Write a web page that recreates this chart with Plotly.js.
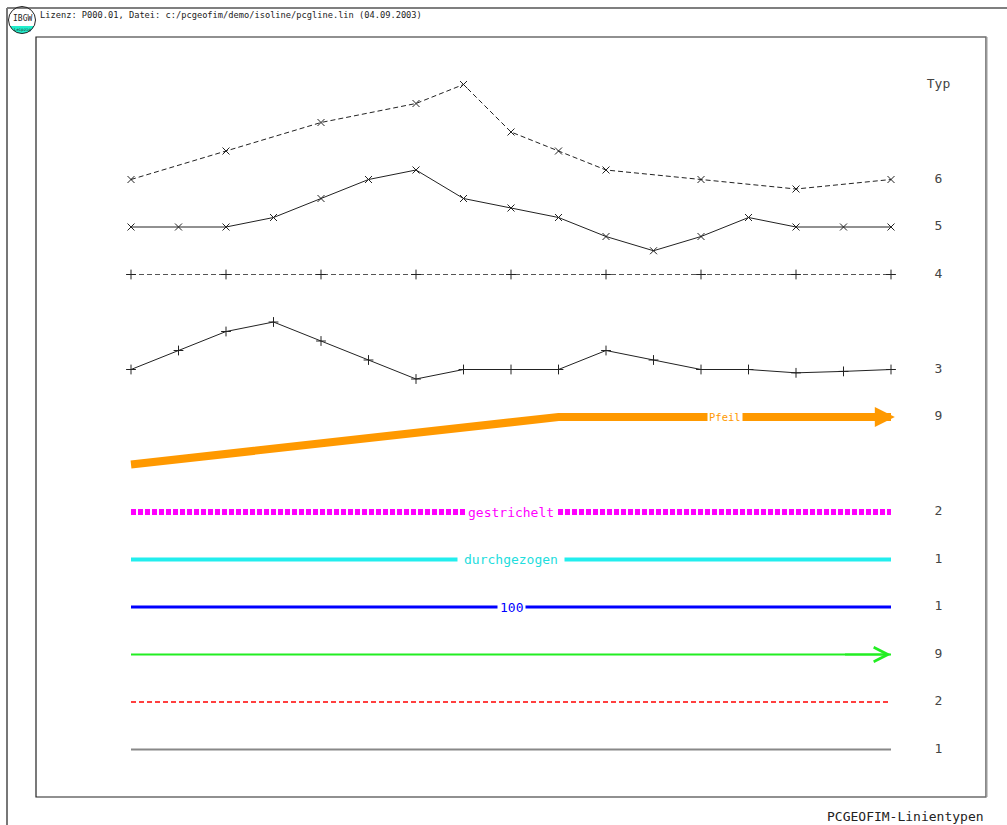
<!DOCTYPE html>
<html>
<head>
<meta charset="utf-8">
<script src="https://cdn.plot.ly/plotly-3.0.1.min.js"></script>
<style>html,body{margin:0;padding:0;background:#fff;}#chart{width:1007px;height:825px;}</style>
</head>
<body>
<div id="chart"></div>
<script>
// ---- data (x = station index, y = row value) ----
const typ6X = [0, 2, 4, 6, 7, 8, 9, 10, 12, 14, 16];
const typ6Y = [12.0, 12.6, 13.2, 13.6, 14.0, 13.0, 12.6, 12.2, 12.0, 11.8, 12.0];
const stationX = [0, 1, 2, 3, 4, 5, 6, 7, 8, 9, 10, 11, 12, 13, 14, 15, 16];
const typ5Y = [11.0, 11.0, 11.0, 11.2, 11.6, 12.0, 12.2, 11.6, 11.4, 11.2, 10.8, 10.5, 10.8, 11.2, 11.0, 11.0, 11.0];
const typ4X = [0, 2, 4, 6, 8, 10, 12, 14, 16];
const typ4Y = [10, 10, 10, 10, 10, 10, 10, 10, 10];
const typ3Y = [8.0, 8.4, 8.8, 9.0, 8.6, 8.2, 7.8, 8.0, 8.0, 8.0, 8.4, 8.2, 8.0, 8.0, 7.93, 7.96, 8.0];
const pfeilX = [0, 9, 16];
const pfeilY = [6, 7, 7];
const rowX = [0, 16];
const gestricheltY = [5, 5];
const durchgezogenY = [4, 4];
const hundertY = [3, 3];
const greenY = [2, 2];
const redY = [1, 1];
const grayY = [0, 0];
const typColX = 17;
const typRowsY = [14, 12, 11, 10, 8, 7, 5, 4, 3, 2, 1, 0];
const typLabels = ['Typ', '6', '5', '4', '3', '9', '2', '1', '1', '9', '2', '1'];
const lineLabels = ['gestrichelt', 'durchgezogen', '100', 'Pfeil'];
const lineLabelX = [8, 8, 8, 12.5];
const lineLabelY = [5, 4, 3, 7];
const headerText = 'Lizenz: P000.01, Datei: c:/pcgeofim/demo/isoline/pcgline.lin (04.09.2003)';
const footerText = 'PCGEOFIM-Linientypen';

// ---- layout helpers (pixel -> paper for decoration) ----
const W = 1007, H = 825, L = 36, R = 986, T = 37, B = 797;
const px = x => (x - L) / (R - L);
const py = y => (B - y) / (B - T);
const mono = 'DejaVu Sans Mono, Liberation Mono, monospace';

const traces = [
  {x: typ6X, y: typ6Y, mode: 'lines+markers', line: {color: '#222', width: 1, dash: '5px,3px'},
   marker: {symbol: 'x-thin', size: 7, line: {color: '#222', width: 1}}},
  {x: stationX, y: typ5Y, mode: 'lines+markers', line: {color: '#222', width: 1},
   marker: {symbol: 'x-thin', size: 7, line: {color: '#222', width: 1}}},
  {x: typ4X, y: typ4Y, mode: 'lines+markers', line: {color: '#555', width: 1, dash: '5px,3px'},
   marker: {symbol: 'cross-thin', size: 7, line: {color: '#222', width: 1}}},
  {x: stationX, y: typ3Y, mode: 'lines+markers', line: {color: '#222', width: 1},
   marker: {symbol: 'cross-thin', size: 7, line: {color: '#222', width: 1}}},
  {x: pfeilX, y: pfeilY, mode: 'lines', line: {color: '#FF9900', width: 8}},
  {x: rowX, y: gestricheltY, mode: 'lines', line: {color: '#FF00FF', width: 6, dash: '5px,2px'}},
  {x: rowX, y: durchgezogenY, mode: 'lines', line: {color: '#22EEEE', width: 4}},
  {x: rowX, y: hundertY, mode: 'lines', line: {color: '#0000FF', width: 3}},
  {x: rowX, y: greenY, mode: 'lines', line: {color: '#22EE22', width: 2}},
  {x: rowX, y: redY, mode: 'lines', line: {color: '#FF0000', width: 1.5, dash: '5px,3px'}},
  {x: rowX, y: grayY, mode: 'lines', line: {color: '#888', width: 2}},
  {x: typRowsY.map(() => typColX), y: typRowsY, mode: 'text', text: typLabels,
   textposition: 'middle center', textfont: {family: mono, size: 13, color: '#444'}}
];

const labelColors = ['#FF00FF', '#22DDDD', '#0000FF', '#FF9900'];
const labelSizes = [13, 13, 13, 10.5];
const labelPads = [2, 6, 2, 1];
const annotations = lineLabels.map((t, i) => ({
  x: lineLabelX[i], y: lineLabelY[i], xref: 'x', yref: 'y', text: t, showarrow: false,
  bgcolor: '#fff', borderpad: labelPads[i], font: {family: mono, size: labelSizes[i], color: labelColors[i]}
}));
// arrow heads
annotations.push({x: 16.08, y: pfeilY[2], ax: 15.4, ay: pfeilY[2], xref: 'x', yref: 'y', axref: 'x', ayref: 'y',
  text: '', showarrow: true, arrowhead: 2, arrowsize: 0.5, arrowwidth: 8, arrowcolor: '#FF9900'});
annotations.push({x: 16, y: greenY[1], ax: 15, ay: greenY[1], xref: 'x', yref: 'y', axref: 'x', ayref: 'y',
  text: '', showarrow: true, arrowhead: 5, arrowsize: 1.4, arrowwidth: 2, arrowcolor: '#22EE22'});
// header / footer
annotations.push({x: px(38), y: py(15), xref: 'paper', yref: 'paper', xanchor: 'left', yanchor: 'middle',
  text: headerText, showarrow: false, font: {family: mono, size: 8.7, color: '#222'}});
annotations.push({x: px(986), y: py(807), xref: 'paper', yref: 'paper', xanchor: 'right', yanchor: 'top',
  text: footerText, showarrow: false, font: {family: mono, size: 13, color: '#222'}});
annotations.push({x: px(22), y: py(18), xref: 'paper', yref: 'paper', xanchor: 'center', yanchor: 'middle',
  text: 'IBGW', showarrow: false, font: {family: mono, size: 8, color: '#222'}});
annotations.push({x: px(22), y: py(29.5), xref: 'paper', yref: 'paper', xanchor: 'center', yanchor: 'middle',
  text: 'Leipzig', showarrow: false, font: {family: mono, size: 4, color: '#222'}});

// logo lower segment path
const cx = 22, cy = 20, r = 13.5;
const segTop = 26;
const a0 = Math.asin((segTop - cy) / r);
let seg = '';
const nS = 24;
for (let k = 0; k <= nS; k++) {
  const a = a0 + (Math.PI - 2 * a0) * k / nS;
  const X = cx + r * Math.cos(a), Y = cy + r * Math.sin(a);
  seg += (k === 0 ? 'M' : 'L') + px(X).toFixed(5) + ',' + py(Y).toFixed(5);
}
seg += 'Z';

const shapes = [
  // outer frame
  {type: 'line', xref: 'paper', yref: 'paper', x0: px(7), x1: px(1007), y0: py(8), y1: py(8), line: {color: '#555', width: 1.5}},
  {type: 'line', xref: 'paper', yref: 'paper', x0: px(7), x1: px(7), y0: py(8), y1: py(825), line: {color: '#777', width: 2}},
  // inner frame
  {type: 'rect', xref: 'paper', yref: 'paper', x0: 0, x1: 1, y0: 0, y1: 1, line: {color: '#222', width: 1.2}},
  {type: 'line', xref: 'paper', yref: 'paper', x0: px(986.5), x1: px(986.5), y0: py(37), y1: py(797), line: {color: '#999', width: 2}},
  // logo
  {type: 'path', xref: 'paper', yref: 'paper', path: seg, fillcolor: '#22EECC', line: {width: 0}},
  {type: 'circle', xref: 'paper', yref: 'paper', x0: px(cx - r), x1: px(cx + r), y0: py(cy + r), y1: py(cy - r),
   line: {color: '#222', width: 1}}
];

const layout = {
  width: W, height: H,
  margin: {l: L, r: W - R, t: T, b: H - B, pad: 0},
  paper_bgcolor: '#fff', plot_bgcolor: '#fff',
  showlegend: false, hovermode: false,
  xaxis: {range: [-2, 18], visible: false, fixedrange: true},
  yaxis: {range: [-1, 15], visible: false, fixedrange: true},
  annotations: annotations,
  shapes: shapes
};

Plotly.newPlot('chart', traces, layout, {staticPlot: true, displayModeBar: false});
</script>
</body>
</html>
